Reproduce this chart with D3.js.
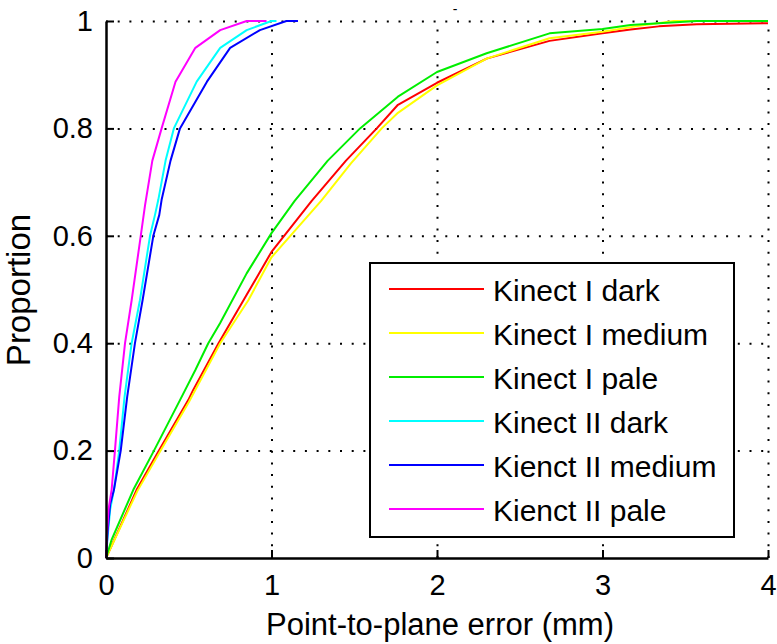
<!DOCTYPE html>
<html>
<head>
<meta charset="utf-8">
<script src="https://cdn.jsdelivr.net/npm/d3@7"></script>
<style>
    body { margin: 0; background: #fff; }
    svg text { font-family: 'Liberation Sans', Arial, sans-serif; fill: #000; }
</style>
</head>
<body>
<div id="chart"></div>
<script>
// values: error (mm) and cumulative proportion
const k1DarkX = [0, 0.1, 0.185, 0.32, 0.497, 0.527, 0.68, 0.85, 1.0, 1.243, 1.45, 1.636, 1.764, 2.0, 2.3, 2.68, 3.0, 3.17, 3.34, 3.57, 4.0]
const k1DarkY = [0, 0.068, 0.127, 0.2, 0.294, 0.313, 0.4, 0.49, 0.57, 0.665, 0.74, 0.8, 0.844, 0.885, 0.93, 0.963, 0.977, 0.984, 0.99, 0.994, 0.996]

const k1MediumX = [0, 0.1, 0.19, 0.33, 0.5, 0.69, 0.86, 1.0, 1.3, 1.48, 1.666, 1.764, 2.0, 2.3, 2.68, 3.0, 3.2, 3.43, 4.0]
const k1MediumY = [0, 0.066, 0.125, 0.2, 0.29, 0.4, 0.48, 0.56, 0.665, 0.735, 0.8, 0.829, 0.88, 0.93, 0.968, 0.98, 0.99, 1.0, 1.0]

const k1PaleX = [0, 0.034, 0.165, 0.29, 0.447, 0.54, 0.618, 0.689, 0.85, 1.0, 1.14, 1.34, 1.535, 1.764, 2.0, 2.3, 2.68, 3.0, 3.17, 3.34, 3.57, 4.0]
const k1PaleY = [0, 0.034, 0.127, 0.2, 0.294, 0.35, 0.4, 0.437, 0.53, 0.605, 0.665, 0.74, 0.8, 0.859, 0.905, 0.94, 0.977, 0.985, 0.9926, 0.996, 1.0, 1.0]

const k2DarkX = [0, 0.01, 0.025, 0.048, 0.08, 0.112, 0.155, 0.205, 0.266, 0.296, 0.316, 0.36, 0.41, 0.548, 0.69, 0.85, 1.0, 1.03]
const k2DarkY = [0, 0.04, 0.09, 0.127, 0.2, 0.3, 0.4, 0.48, 0.6, 0.639, 0.667, 0.74, 0.8, 0.887, 0.95, 0.983, 1.0, 1.0]

const k2MediumX = [0, 0.01, 0.025, 0.048, 0.089, 0.128, 0.175, 0.221, 0.286, 0.322, 0.336, 0.39, 0.447, 0.61, 0.75, 0.93, 1.09, 1.16]
const k2MediumY = [0, 0.05, 0.1, 0.127, 0.2, 0.3, 0.4, 0.48, 0.6, 0.639, 0.667, 0.74, 0.8, 0.887, 0.95, 0.983, 1.0, 1.0]

const k2PaleX = [0, 0.005, 0.015, 0.034, 0.054, 0.08, 0.115, 0.155, 0.21, 0.236, 0.28, 0.336, 0.42, 0.54, 0.69, 0.85, 0.97]
const k2PaleY = [0, 0.04, 0.09, 0.127, 0.2, 0.3, 0.4, 0.48, 0.6, 0.657, 0.74, 0.8, 0.887, 0.95, 0.983, 1.0, 1.0]

const seriesNames = ['Kinect I dark', 'Kinect I medium', 'Kinect I pale', 'Kinect II dark', 'Kienct II medium', 'Kienct II pale']
const seriesColors = ['#ff0000', '#ffff00', '#00ee00', '#00ffff', '#0000ff', '#ff00ff']
const xTicks = [0, 1, 2, 3, 4]
const yTicks = [0, 0.2, 0.4, 0.6, 0.8, 1]

const seriesX = [k1DarkX, k1MediumX, k1PaleX, k2DarkX, k2MediumX, k2PaleX]
const seriesY = [k1DarkY, k1MediumY, k1PaleY, k2DarkY, k2MediumY, k2PaleY]

const series = seriesNames.map((name, i) => ({
    name,
    color: seriesColors[i],
    values: seriesX[i].map((v, j) => ({ x: v, y: seriesY[i][j] }))
}))

const margin = { top: 21, right: 9, bottom: 86, left: 106 }
const totalWidth = 777
const totalHeight = 644
const width = totalWidth - margin.left - margin.right
const height = totalHeight - margin.top - margin.bottom

const svg = d3.select('#chart')
    .append('svg')
    .attr('width', totalWidth)
    .attr('height', totalHeight)

const g = svg.append('g')
    .attr('transform', `translate(${margin.left}, ${margin.top})`)

const x = d3.scaleLinear().domain([0, 4]).range([0, width])
const y = d3.scaleLinear().domain([0, 1]).range([height, 0])

// dotted grid
g.append('g')
    .attr('transform', `translate(0, ${height})`)
    .call(d3.axisBottom(x).tickValues(xTicks.slice(1)).tickSize(-height).tickFormat(''))
    .call(s => s.select('.domain').remove())
    .call(s => s.selectAll('line').attr('stroke', '#000').attr('stroke-width', 2).attr('stroke-dasharray', '2,9.7'))

g.append('g')
    .call(d3.axisLeft(y).tickValues(yTicks.slice(1)).tickSize(-width).tickFormat(''))
    .call(s => s.select('.domain').remove())
    .call(s => s.selectAll('line').attr('stroke', '#000').attr('stroke-width', 2).attr('stroke-dasharray', '2,9.7'))

// curves
const line = d3.line()
    .x(d => x(d.x))
    .y(d => y(d.y))

g.selectAll('.curve')
    .data(series)
    .join('path')
    .attr('class', 'curve')
    .attr('fill', 'none')
    .attr('stroke', d => d.color)
    .attr('stroke-width', 2)
    .attr('stroke-linejoin', 'round')
    .attr('d', d => line(d.values))

// axes with inward ticks
const xAxis = g.append('g')
    .attr('transform', `translate(0, ${height})`)
    .call(d3.axisBottom(x).tickValues(xTicks).tickSize(-8).tickSizeOuter(0).tickPadding(16).tickFormat(d3.format('')))

const yAxis = g.append('g')
    .call(d3.axisLeft(y).tickValues(yTicks).tickSize(-8).tickSizeOuter(0).tickPadding(13).tickFormat(d3.format('')))

for (const ax of [xAxis, yAxis]) {
    ax.select('.domain').attr('stroke', '#000').attr('stroke-width', 2.5)
    ax.selectAll('.tick line').attr('stroke', '#000').attr('stroke-width', 2)
    ax.selectAll('.tick text').style('font-size', '29px').attr('fill', '#000')
}

// axis titles
svg.append('text')
    .attr('x', 440)
    .attr('y', 635)
    .attr('text-anchor', 'middle')
    .style('font-size', '31px')
    .text('Point-to-plane error (mm)')

svg.append('text')
    .attr('transform', `translate(30, 290) rotate(-90)`)
    .attr('text-anchor', 'middle')
    .style('font-size', '33px')
    .text('Proportion')

svg.append('text')
    .attr('x', 455)
    .attr('y', 14)
    .attr('text-anchor', 'middle')
    .style('font-size', '14px')
    .text('-')

// legend
const legend = svg.append('g')
    .attr('transform', 'translate(370, 263)')

legend.append('rect')
    .attr('width', 364)
    .attr('height', 274)
    .attr('fill', '#fff')
    .attr('stroke', '#000')
    .attr('stroke-width', 2)

const rows = legend.selectAll('.row')
    .data(series)
    .join('g')
    .attr('class', 'row')
    .attr('transform', (d, i) => `translate(0, ${26 + i * 44})`)

rows.append('line')
    .attr('x1', 19)
    .attr('x2', 114)
    .attr('stroke', d => d.color)
    .attr('stroke-width', 2)

rows.append('text')
    .attr('x', 123)
    .attr('y', 12)
    .style('font-size', '30px')
    .text(d => d.name)
</script>
</body>
</html>
